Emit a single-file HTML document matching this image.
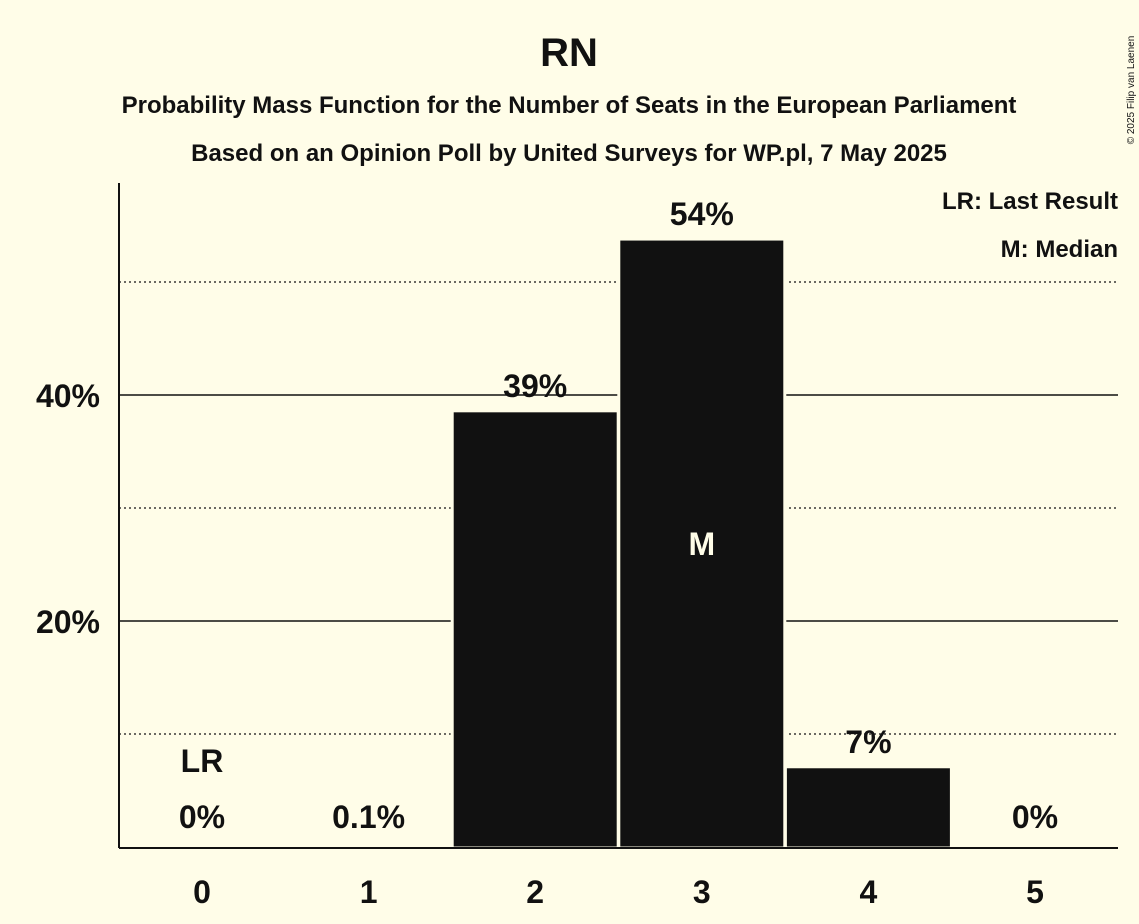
<!DOCTYPE html>
<html><head><meta charset="utf-8"><style>
body{margin:0;background:#fffde8;}
svg{display:block;font-family:"Liberation Sans",sans-serif;}
</style></head><body>
<svg id="chart" width="1139" height="924" viewBox="0 0 1139 924">
<rect x="0" y="0" width="1139" height="924" fill="#fffde8"/>
<text x="569" y="66" text-anchor="middle" font-size="40" font-weight="bold" fill="#111">RN</text>
<text x="569" y="113" text-anchor="middle" font-size="24" font-weight="bold" fill="#111">Probability Mass Function for the Number of Seats in the European Parliament</text>
<text x="569" y="161" text-anchor="middle" font-size="24" font-weight="bold" fill="#111">Based on an Opinion Poll by United Surveys for WP.pl, 7 May 2025</text>
<text transform="translate(1134,90) rotate(-90)" text-anchor="middle" font-size="10" fill="#111">© 2025 Filip van Laenen</text>
<g id="grid"></g>
<g id="bars"></g>
<g id="labels"></g>
<line x1="119" y1="183" x2="119" y2="848" stroke="#111" stroke-width="2"/>
<line x1="119" y1="848" x2="1118" y2="848" stroke="#111" stroke-width="2"/>
<text x="1118" y="209" text-anchor="end" font-size="24" font-weight="bold" fill="#111">LR: Last Result</text>
<text x="1118" y="257" text-anchor="end" font-size="24" font-weight="bold" fill="#111">M: Median</text>
</svg>
<script>
const categories = [0, 1, 2, 3, 4, 5];
const values = [0, 0.1, 38.6, 53.8, 7.1, 0];
const valueLabels = ["0%", "0.1%", "39%", "54%", "7%", "0%"];
const yTicks = [20, 40];
const yMinorTicks = [10, 30, 50];
const lastResult = 0;
const median = 3;

const NS = "http://www.w3.org/2000/svg";
const x = c => 202 + c * 166.6;
const y = v => 847 - v * 11.3;
const bw = 166;
function mk(tag, attrs, parent) {
  const e = document.createElementNS(NS, tag);
  for (const k in attrs) e.setAttribute(k, attrs[k]);
  parent.appendChild(e);
  return e;
}
const grid = document.getElementById("grid"), bars = document.getElementById("bars"), labels = document.getElementById("labels");
yMinorTicks.forEach(t => {
  const l = mk("line", {x1: 119, x2: 1118, y1: y(t), y2: y(t), stroke: "#111", "stroke-width": 1.2, "stroke-dasharray": "2,3"}, grid);
  
  
});
yTicks.forEach(t => {
  const l = mk("line", {x1: 119, x2: 1118, y1: y(t), y2: y(t), stroke: "#111", "stroke-width": 1.5}, grid);
  
  
  const tx = mk("text", {x: 100, y: y(t) + 12, "text-anchor": "end", "font-size": 32, "font-weight": "bold", fill: "#111"}, labels);
  tx.textContent = t + "%";
  
  
});
categories.forEach((c, i) => {
  const v = values[i];
  if (v > 0.5) {
    const r = mk("rect", {x: x(c) - bw / 2, y: y(v), width: bw, height: y(0) - y(v) + 1, fill: "#111", stroke: "#fffde8", "stroke-width": 3}, bars);
    
    
  }
  const ly = v > 0.5 ? y(v) - 14 : 828;
  const t = mk("text", {x: x(c), y: ly, "text-anchor": "middle", "font-size": 32, "font-weight": "bold", fill: "#111"}, labels);
  t.textContent = valueLabels[i];
  
  
  const xt = mk("text", {x: x(c), y: 903, "text-anchor": "middle", "font-size": 32, "font-weight": "bold", fill: "#111"}, labels);
  xt.textContent = c;
  
  
  if (c === lastResult) {
    const lr = mk("text", {x: x(c), y: Math.min(ly, 828) - 56, "text-anchor": "middle", "font-size": 32, "font-weight": "bold", fill: "#111"}, labels);
    lr.textContent = "LR";
    
    
  }
  if (c === median) {
    const m = mk("text", {x: x(c), y: (y(v) + y(0)) / 2 + 12, "text-anchor": "middle", "font-size": 32, "font-weight": "bold", fill: "#fffde8"}, labels);
    m.textContent = "M";
    
    
  }
});
</script>
</body></html>
